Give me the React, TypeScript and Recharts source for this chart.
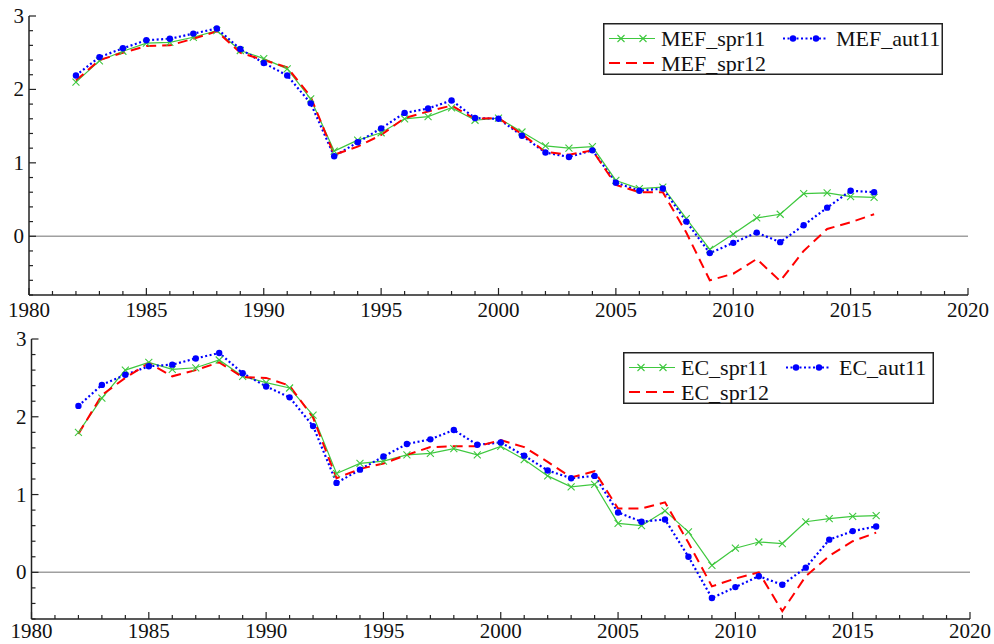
import React from "react"
import { LineChart, Line, XAxis, YAxis, ReferenceLine, Legend } from "recharts"

const years = [
  1982, 1983, 1984, 1985, 1986, 1987, 1988, 1989, 1990, 1991, 1992, 1993,
  1994, 1995, 1996, 1997, 1998, 1999, 2000, 2001, 2002, 2003, 2004, 2005,
  2006, 2007, 2008, 2009, 2010, 2011, 2012, 2013, 2014, 2015, 2016,
]

const mefSpr11 = [
  2.1, 2.39, 2.52, 2.63, 2.64, 2.71, 2.8, 2.53, 2.42, 2.28, 1.87, 1.16,
  1.31, 1.41, 1.6, 1.63, 1.75, 1.58, 1.61, 1.42, 1.23, 1.2, 1.22, 0.76,
  0.65, 0.67, 0.24, -0.18, 0.03, 0.25, 0.3, 0.58, 0.59, 0.54, 0.53,
]
const mefAut11 = [
  2.19, 2.44, 2.56, 2.67, 2.69, 2.76, 2.83, 2.55, 2.36, 2.19, 1.81, 1.09,
  1.28, 1.47, 1.68, 1.74, 1.85, 1.61, 1.6, 1.37, 1.14, 1.08, 1.17, 0.73,
  0.62, 0.65, 0.2, -0.23, -0.09, 0.05, -0.08, 0.15, 0.39, 0.62, 0.6,
]
const mefSpr12 = [
  2.12, 2.4, 2.5, 2.59, 2.6, 2.69, 2.79, 2.5, 2.4, 2.3, 1.9, 1.11,
  1.22, 1.38, 1.61, 1.7, 1.78, 1.6, 1.61, 1.39, 1.15, 1.11, 1.17, 0.7,
  0.6, 0.6, 0.05, -0.6, -0.51, -0.31, -0.61, -0.2, 0.1, 0.19, 0.3,
]

const ecSpr11 = [
  1.8, 2.24, 2.6, 2.7, 2.61, 2.63, 2.73, 2.52, 2.44, 2.37, 2.02, 1.27,
  1.4, 1.43, 1.51, 1.53, 1.59, 1.51, 1.62, 1.45, 1.24, 1.1, 1.13, 0.63,
  0.6, 0.79, 0.52, 0.09, 0.31, 0.39, 0.37, 0.65, 0.69, 0.72, 0.73,
]
const ecAut11 = [
  2.14, 2.41, 2.54, 2.65, 2.67, 2.75, 2.82, 2.56, 2.39, 2.25, 1.88, 1.15,
  1.32, 1.49, 1.65, 1.71, 1.83, 1.64, 1.67, 1.5, 1.31, 1.21, 1.24, 0.77,
  0.65, 0.68, 0.2, -0.33, -0.19, -0.05, -0.16, 0.06, 0.42, 0.53, 0.59,
]
const ecSpr12 = [
  1.78, 2.28, 2.5, 2.69, 2.52, 2.6, 2.7, 2.51, 2.5, 2.4, 1.99, 1.21,
  1.33, 1.4, 1.51, 1.61, 1.62, 1.62, 1.7, 1.61, 1.42, 1.22, 1.3, 0.82,
  0.82, 0.9, 0.38, -0.18, -0.08, 0.0, -0.5, -0.05, 0.21, 0.4, 0.51,
]

const yearTicks = [
  1980, 1981, 1982, 1983, 1984, 1985, 1986, 1987, 1988, 1989, 1990, 1991,
  1992, 1993, 1994, 1995, 1996, 1997, 1998, 1999, 2000, 2001, 2002, 2003,
  2004, 2005, 2006, 2007, 2008, 2009, 2010, 2011, 2012, 2013, 2014, 2015,
  2016, 2017, 2018, 2019, 2020,
]
const topYTicks = [
  -0.8, -0.6, -0.4, -0.2, 0, 0.2, 0.4, 0.6, 0.8, 1, 1.2, 1.4, 1.6, 1.8, 2,
  2.2, 2.4, 2.6, 2.8, 3,
]
const bottomYTicks = [
  -0.6, -0.4, -0.2, 0, 0.2, 0.4, 0.6, 0.8, 1, 1.2, 1.4, 1.6, 1.8, 2, 2.2,
  2.4, 2.6, 2.8, 3,
]

const topData = years.map((year, i) => ({
  year,
  spr11: mefSpr11[i],
  aut11: mefAut11[i],
  spr12: mefSpr12[i],
}))
const bottomData = years.map((year, i) => ({
  year,
  spr11: ecSpr11[i],
  aut11: ecAut11[i],
  spr12: ecSpr12[i],
}))

const GREEN = "#3fc83f"
const BLUE = "#0000ff"
const RED = "#ff0000"
const AXIS = "#222"
const FONT = "'Liberation Serif', 'Times New Roman', serif"

// ticks point inwards, long ones on the labelled values
const makeXTick = (labelOffset: number) => (props: any) => {
  const { x, y, payload } = props
  const v = payload.value
  const major = v % 5 === 0
  return (
    <g>
      <line x1={x} x2={x} y1={y} y2={y - (major ? 7 : 4)} stroke={AXIS} strokeWidth={1.2} />
      {major && (
        <text x={x} y={y + labelOffset} textAnchor="middle" dominantBaseline="central" fontFamily={FONT} fontSize={21} fill="#111">
          {v}
        </text>
      )}
    </g>
  )
}

const YTick = (props: any) => {
  const { x, y, payload } = props
  const v = payload.value
  const major = Math.abs(v - Math.round(v)) < 1e-6
  return (
    <g>
      <line x1={x} x2={x + (major ? 7 : 4)} y1={y} y2={y} stroke={AXIS} strokeWidth={1.2} />
      {major && (
        <text x={x - 5} y={y} textAnchor="end" dominantBaseline="central" fontFamily={FONT} fontSize={21} fill="#111">
          {Math.round(v)}
        </text>
      )}
    </g>
  )
}

const CrossDot = (props: any) => {
  const { cx, cy, index } = props
  if (cx == null || cy == null) return <g key={`x-${index}`} />
  return (
    <path
      key={`x-${index}`}
      d={`M${cx - 3.5},${cy - 3.5}L${cx + 3.5},${cy + 3.5}M${cx - 3.5},${cy + 3.5}L${cx + 3.5},${cy - 3.5}`}
      stroke={GREEN}
      strokeWidth={1.1}
    />
  )
}

const BlueDot = (props: any) => {
  const { cx, cy, index } = props
  if (cx == null || cy == null) return <g key={`b-${index}`} />
  return <circle key={`b-${index}`} cx={cx} cy={cy} r={3.2} fill={BLUE} />
}

function LegendBox({ names, width, col2 }: { names: string[]; width: number; col2: number }) {
  const r1 = 15.5
  const r2 = 40
  return (
    <svg width={width} height={52} style={{ display: "block" }}>
      <rect x={0.75} y={0.75} width={width - 1.5} height={50.5} fill="#fff" stroke={AXIS} strokeWidth={1.5} />
      <line x1={6} x2={52} y1={r1} y2={r1} stroke={GREEN} strokeWidth={1.2} />
      <CrossDot cx={18} cy={r1} index={0} />
      <CrossDot cx={40} cy={r1} index={1} />
      <text x={58} y={r1} dominantBaseline="central" fontFamily={FONT} fontSize={22} fill="#111">{names[0]}</text>
      <line x1={col2} x2={col2 + 44} y1={r1} y2={r1} stroke={BLUE} strokeWidth={2.2} strokeDasharray="2 2.5" />
      <BlueDot cx={col2 + 10} cy={r1} index={2} />
      <BlueDot cx={col2 + 33} cy={r1} index={3} />
      <text x={col2 + 53} y={r1} dominantBaseline="central" fontFamily={FONT} fontSize={22} fill="#111">{names[1]}</text>
      <line x1={6} x2={52} y1={r2} y2={r2} stroke={RED} strokeWidth={2} strokeDasharray="11 6" />
      <text x={58} y={r2} dominantBaseline="central" fontFamily={FONT} fontSize={22} fill="#111">{names[2]}</text>
    </svg>
  )
}

function Panel({
  data,
  yTicks,
  yMin,
  names,
  axisWidth,
  margin,
  xAxisHeight,
  xLabelOffset,
  legendPos,
  legendWidth,
  legendCol2,
}: {
  data: { year: number; spr11: number; aut11: number; spr12: number }[]
  yTicks: number[]
  yMin: number
  names: string[]
  axisWidth: number
  margin: { top: number; right: number; bottom: number; left: number }
  xAxisHeight: number
  xLabelOffset: number
  legendPos: { left: number; top: number }
  legendWidth: number
  legendCol2: number
}) {
  return (
    <LineChart width={994} height={322} data={data} margin={margin}>
      <XAxis
        type="number"
        dataKey="year"
        domain={[1980, 2020]}
        ticks={yearTicks}
        interval={0}
        tickSize={0}
        tickMargin={0}
        tickLine={false}
        tick={makeXTick(xLabelOffset)}
        height={xAxisHeight}
        axisLine={{ stroke: AXIS, strokeWidth: 1.5 }}
      />
      <YAxis
        type="number"
        domain={[yMin, 3]}
        ticks={yTicks}
        interval={0}
        tickSize={0}
        tickMargin={0}
        tickLine={false}
        tick={YTick}
        width={axisWidth}
        allowDataOverflow
        axisLine={{ stroke: AXIS, strokeWidth: 1.5 }}
      />
      <ReferenceLine y={0} stroke="#a0a0a0" strokeWidth={1.5} />
      <Legend
        layout="horizontal"
        verticalAlign="middle"
        align="center"
        wrapperStyle={{ left: legendPos.left, top: legendPos.top, width: legendWidth }}
        content={() => <LegendBox names={names} width={legendWidth} col2={legendCol2} />}
      />
      <Line
        dataKey="spr11"
        name={names[0]}
        stroke={GREEN}
        strokeWidth={1.2}
        dot={CrossDot}
        activeDot={false}
        isAnimationActive={false}
      />
      <Line
        dataKey="aut11"
        name={names[1]}
        stroke={BLUE}
        strokeWidth={2.2}
        strokeDasharray="2 2.5"
        dot={BlueDot}
        activeDot={false}
        isAnimationActive={false}
      />
      <Line
        dataKey="spr12"
        name={names[2]}
        stroke={RED}
        strokeWidth={2}
        strokeDasharray="10 6"
        dot={false}
        activeDot={false}
        isAnimationActive={false}
      />
    </LineChart>
  )
}

export default function App() {
  return (
    <div style={{ position: "absolute", left: 0, top: 0, width: 994, height: 644, background: "#fff" }}>
      <div style={{ position: "absolute", left: 0, top: 0 }}>
        <Panel
          data={topData}
          yTicks={topYTicks}
          yMin={-0.8}
          names={["MEF_spr11", "MEF_aut11", "MEF_spr12"]}
          axisWidth={29}
          margin={{ top: 16, right: 26, bottom: 0, left: 0 }}
          xAxisHeight={27}
          xLabelOffset={15}
          legendPos={{ left: 603, top: 23 }}
          legendWidth={340}
          legendCol2={180}
        />
      </div>
      <div style={{ position: "absolute", left: 0, top: 322 }}>
        <Panel
          data={bottomData}
          yTicks={bottomYTicks}
          yMin={-0.6}
          names={["EC_spr11", "EC_aut11", "EC_spr12"]}
          axisWidth={31.5}
          margin={{ top: 17, right: 24, bottom: 0, left: 0 }}
          xAxisHeight={25}
          xLabelOffset={12}
          legendPos={{ left: 623, top: 30 }}
          legendWidth={311}
          legendCol2={163}
        />
      </div>
    </div>
  )
}
